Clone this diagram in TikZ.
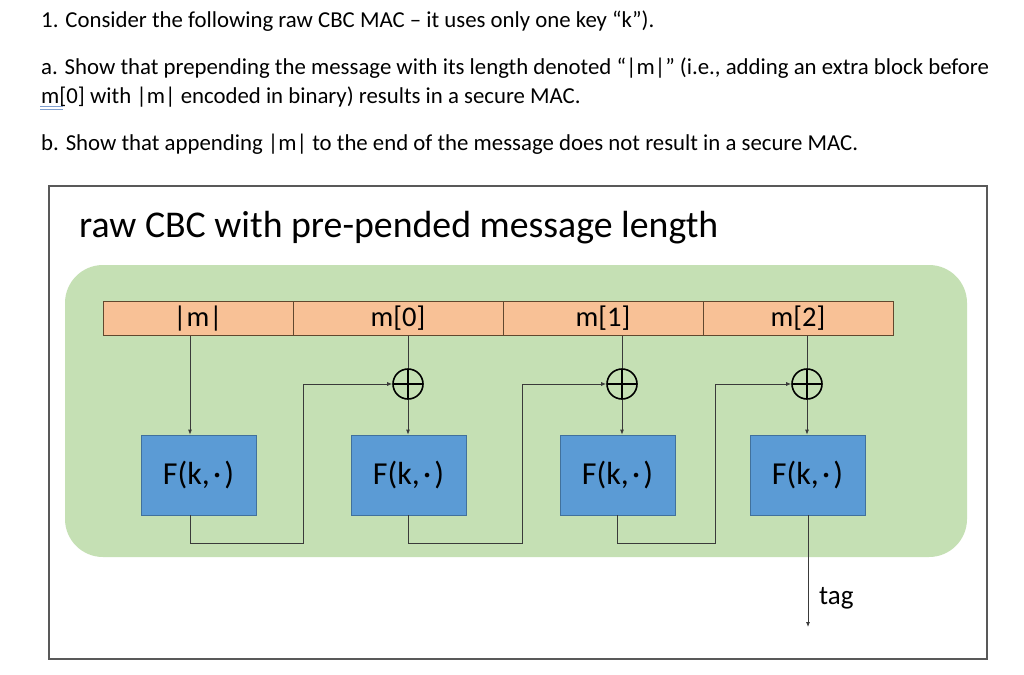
\documentclass[tikz,border=0pt]{standalone}
\usepackage{fontspec}
\setmainfont{Carlito}
\usetikzlibrary{arrows.meta,calc}
\definecolor{frameGray}{HTML}{595959}
\definecolor{bgGreen}{HTML}{C5E0B4}
\definecolor{cellOrange}{HTML}{F8C196}
\definecolor{boxBlue}{HTML}{5B9BD5}
\definecolor{boxEdge}{HTML}{41719C}
\definecolor{wireGray}{HTML}{3A3A3A}
\definecolor{markBlue}{HTML}{7F9FD0}
\newcommand{\fk}{F(k,\hspace{0.1em}·\hspace{0.1em})}

\begin{document}
\begin{tikzpicture}[x=1pt,y=-1pt,
	cell/.style={draw=wireGray!80!orange, fill=cellOrange, line width=0.8pt, minimum height=34pt, inner sep=0pt, font=\fontsize{28.5}{30}\selectfont},
	fbox/.style={draw=boxEdge, fill=boxBlue, line width=0.8pt, minimum width=115pt, minimum height=80pt, inner sep=0pt, font=\fontsize{32}{34}\selectfont},
	xor/.style={draw=black, line width=1.6pt, circle, minimum size=30pt, inner sep=0pt,
		path picture={\draw[line width=1.4pt] (path picture bounding box.north) -- (path picture bounding box.south)
			(path picture bounding box.west) -- (path picture bounding box.east);}},
	wire/.style={draw=wireGray, line width=0.8pt},
	flow/.style={wire, -{Latex[length=5pt,width=4pt]}},
	para/.style={anchor=base west, inner sep=0pt, font=\fontsize{22.8}{26}\selectfont}]
		%%%%% START %%%%%
		\useasboundingbox[fill=white] (0,0) rectangle (1024,674);
		
		\node[para] (q1) at (41,27.5) {1. Consider the following raw CBC MAC -- it uses only one key “k”).};
		\node[para] (qa) at (41,75) {a. Show that prepending the message with its length denoted “|m|” (i.e., adding an extra block before};
		\node[para] (qa2) at (41,103.5) {m[0] with |m| encoded in binary) results in a secure MAC.};
		\node[para] (qb) at (41,150) {b. Show that appending |m| to the end of the message does not result in a secure MAC.};
		\draw[markBlue, line width=0.7pt] (40,106.5) -- (63,106.5) (40,109) -- (63,109);
		
		\draw[frameGray, line width=1.5pt] (49,186) rectangle (987,659);
		\node[anchor=base west, inner sep=0pt, font=\fontsize{37.8}{42}\selectfont] (title) at (79,237) {raw CBC with pre-pended message length};
		
		\fill[bgGreen, rounded corners=38pt] (65,265) rectangle (967,557);
		
		\node[cell, minimum width=190pt] (c0) at (198,318.5) {|m|};
		\node[cell, minimum width=210pt] (c1) at (398,318.5) {m[0]};
		\node[cell, minimum width=200pt] (c2) at (603,318.5) {m[1]};
		\node[cell, minimum width=190pt] (c3) at (798,318.5) {m[2]};
		
		\node[fbox] (f0) at (198.5,475) {\fk};
		\node[fbox] (f1) at (408.5,475) {\fk};
		\node[fbox] (f2) at (617.5,475) {\fk};
		\node[fbox] (f3) at (807.5,475) {\fk};
		
		\node[xor] (x1) at (408,384) {};
		\node[xor] (x2) at (622,384) {};
		\node[xor] (x3) at (807,384) {};
		
		\coordinate (k1) at (303,543);
		\coordinate (k2) at (522,543);
		\coordinate (k3) at (715,543);
		\coordinate (out) at (808,627);
		
		% message blocks
		\draw[flow] ([xshift=-8pt]c0.south) -- ([xshift=-8pt]c0.south |- f0.north);
		\draw[wire] (x1 |- c1.south) -- (x1.north);
		\draw[wire] (x2 |- c2.south) -- (x2.north);
		\draw[wire] (x3 |- c3.south) -- (x3.north);
		\draw[flow] (x1.south) -- (x1 |- f1.north);
		\draw[flow] (x2.south) -- (x2 |- f2.north);
		\draw[flow] (x3.south) -- (x3 |- f3.north);
		
		% chaining
		\draw[flow] ([xshift=-8pt]f0.south) |- (k1) |- (x1.west);
		\draw[flow] (f1.south) |- (k2) |- (x2.west);
		\draw[flow] (f2.south) |- (k3) |- (x3.west);
		\draw[flow] (f3.south -| out) -- (out);
		\node[anchor=west, inner sep=0pt, font=\fontsize{27}{30}\selectfont] (tag) at (819,598) {tag};
		
		%%%%% END %%%%%
	\end{tikzpicture}
\end{document}
